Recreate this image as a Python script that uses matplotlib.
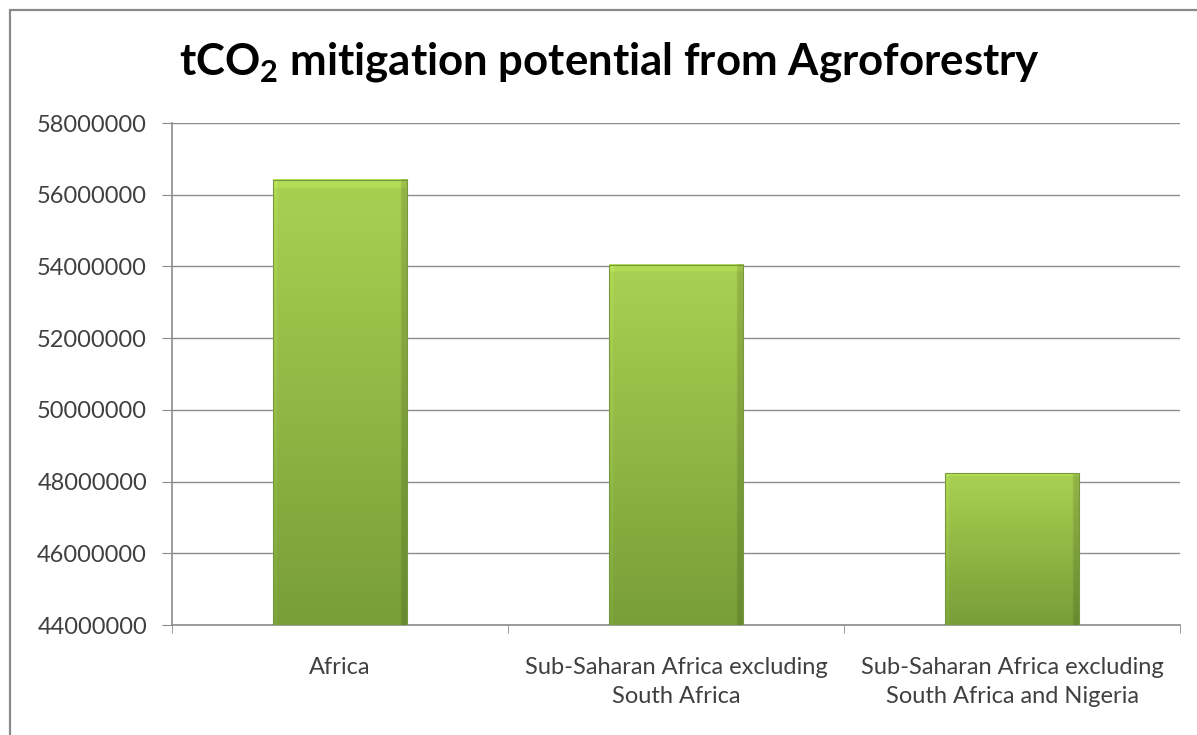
import numpy as np
import matplotlib
matplotlib.use('Agg')
import matplotlib.pyplot as plt
from matplotlib.patches import Rectangle

plt.rcParams['font.family'] = 'Lato'
plt.rcParams['mathtext.fontset'] = 'custom'
plt.rcParams['mathtext.rm'] = 'Lato'
plt.rcParams['mathtext.bf'] = 'Lato:bold'

regions = ['Africa',
           'Sub-Saharan Africa excluding\nSouth Africa',
           'Sub-Saharan Africa excluding\nSouth Africa and Nigeria']
mitigation = [56420000, 54050000, 48230000]
y_ticks = [44000000, 46000000, 48000000, 50000000, 52000000, 54000000, 56000000, 58000000]

top_rgb = np.array([170, 208, 82]) / 255
bottom_rgb = np.array([120, 158, 56]) / 255
axis_gray = '#8c8c8c'
text_gray = '#404040'

fig = plt.figure(figsize=(11.97, 7.35), dpi=100)
fig.patches.append(Rectangle((10 / 1197, -0.1), 1.2, 1 - 10 / 735 + 0.1,
                             transform=fig.transFigure, fill=False,
                             edgecolor='#8a8a8a', linewidth=1.6))
ax = fig.add_axes([172 / 1197, 1 - 625 / 735, 1008 / 1197, 502 / 735])

x = np.arange(len(regions))
bars = ax.bar(x, mitigation, width=0.4, bottom=0, color='none', zorder=3)

ymin, ymax = y_ticks[0], y_ticks[-1]

# gradient fill for each bar: light at the top, darker toward the base,
# with a slightly darker band along the right edge
for rect, val in zip(bars, mitigation):
    x0 = rect.get_x()
    w = rect.get_width()
    ny, nx = 200, 60
    t = np.linspace(0, 1, ny)[:, None, None]  # 0 top, 1 bottom
    img = top_rgb * (1 - t) + bottom_rgb * t
    img = np.repeat(img, nx, axis=1)
    u = np.linspace(0, 1, nx)
    side = np.ones(nx)
    side[u > 0.95] = 0.87
    side[u < 0.03] = 1.04
    img = np.clip(img * side[None, :, None], 0, 1)
    # brighter bevel at the top
    img[:4] = np.clip(img[:4] * 1.06, 0, 1)
    ax.imshow(img, extent=(x0, x0 + w, ymin, val), aspect='auto', zorder=3,
              interpolation='bilinear')
    ax.add_patch(Rectangle((x0, ymin), w, val - ymin, fill=False,
                           edgecolor='#76993e', linewidth=0.8, zorder=4))

ax.set_xlim(-0.5, len(regions) - 0.5)
ax.set_ylim(ymin, ymax)
ax.set_yticks(y_ticks)
ax.set_yticklabels([str(v) for v in y_ticks])
ax.set_xticks(x)
ax.set_xticklabels(regions, linespacing=1.5)
ax.set_xticks(np.arange(len(regions) + 1) - 0.5, minor=True)

ax.grid(axis='y', color=axis_gray, linewidth=1.0, zorder=0)
ax.set_axisbelow(True)
for side in ['top', 'right']:
    ax.spines[side].set_visible(False)
for side in ['left', 'bottom']:
    ax.spines[side].set_color(axis_gray)
    ax.spines[side].set_linewidth(1.2)

ax.tick_params(axis='y', length=7, color=axis_gray, labelsize=17,
               labelcolor=text_gray, pad=11)
ax.tick_params(axis='x', which='major', length=0, labelsize=17,
               labelcolor=text_gray, pad=23)
ax.tick_params(axis='x', which='minor', length=6, color=axis_gray)

fig.text(609 / 1197, 1 - 75 / 735,
         r'tCO$_\mathbf{2}$ mitigation potential from Agroforestry',
         ha='center', va='baseline', fontsize=31.5, fontweight='bold',
         color='black')

fig.savefig('out.png', dpi=100, facecolor='white')
